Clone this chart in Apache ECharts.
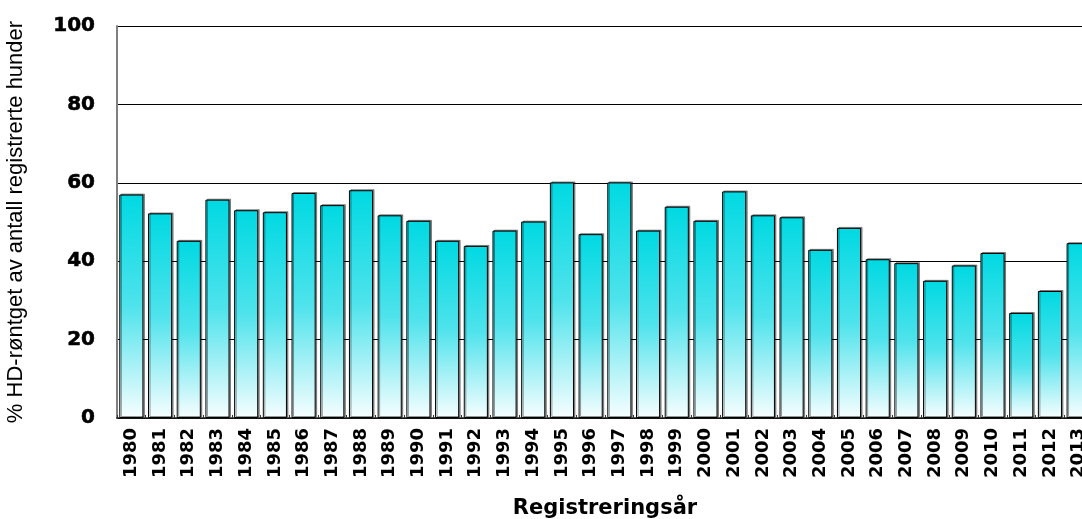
<!DOCTYPE html>
<html>
<head>
<meta charset="utf-8">
<script src="https://cdn.jsdelivr.net/npm/echarts@6/dist/echarts.min.js"></script>
<style>
  html, body { margin: 0; padding: 0; background: #ffffff; }
  #chart { width: 1082px; height: 519px; }
</style>
</head>
<body>
<div id="chart"></div>
<script>
// Registration years
const years = [
  '1980','1981','1982','1983','1984','1985','1986','1987','1988','1989',
  '1990','1991','1992','1993','1994','1995','1996','1997','1998','1999',
  '2000','2001','2002','2003','2004','2005','2006','2007','2008','2009',
  '2010','2011','2012','2013'
];

// Share of registered dogs that were HD x-rayed (%)
const xrayedPercent = [
  57.0, 52.2, 45.2, 55.7, 53.0, 52.5, 57.4, 54.3, 58.1, 51.7,
  50.3, 45.2, 43.9, 47.8, 50.1, 60.1, 46.9, 60.1, 47.8, 53.9,
  50.3, 57.8, 51.7, 51.2, 42.9, 48.5, 40.5, 39.5, 35.0, 38.9,
  42.1, 26.8, 32.4, 44.6
];

// Value axis ticks
const yTicks = [0, 20, 40, 60, 80, 100];

const chart = echarts.init(document.getElementById('chart'), null, { renderer: 'canvas' });

chart.setOption({
  animation: false,
  backgroundColor: '#ffffff',
  // the plot runs past the right edge of the canvas, so the last bar is clipped
  grid: { left: 117, top: 26, width: 976, height: 392, containLabel: false, outerBoundsMode: 'none' },
  xAxis: {
    type: 'category',
    data: years,
    boundaryGap: true,
    name: 'Registreringsår',
    nameLocation: 'middle',
    nameGap: 80,
    nameTextStyle: { fontFamily: 'DejaVu Sans', fontWeight: 'bold', fontSize: 21, color: '#000' },
    axisLine: { lineStyle: { color: '#1a1a1a', width: 1.5 } },
    axisTick: { show: true, inside: true, length: 3, lineStyle: { color: '#333' } },
    axisLabel: {
      interval: 0,
      rotate: 90,
      margin: 10,
      fontFamily: 'DejaVu Sans',
      fontWeight: 'bold',
      fontSize: 18,
      color: '#000'
    }
  },
  yAxis: {
    type: 'value',
    min: yTicks[0],
    max: yTicks[yTicks.length - 1],
    interval: 20,
    name: '% HD-røntget av antall registrerte hunder',
    nameLocation: 'middle',
    nameGap: 90,
    nameTextStyle: { fontFamily: 'Liberation Sans', fontSize: 22, color: '#000' },
    axisLine: { show: true, lineStyle: { color: '#808080', width: 2 } },
    axisTick: { show: false },
    axisLabel: {
      margin: 22,
      fontFamily: 'DejaVu Sans',
      fontWeight: 'bold',
      fontSize: 20,
      color: '#000',
      textBorderColor: '#000',
      textBorderWidth: 0.6
    },
    splitLine: { show: true, lineStyle: { color: '#000', width: 1 } }
  },
  series: [{
    type: 'bar',
    data: xrayedPercent,
    barCategoryGap: '16%',
    itemStyle: {
      color: new echarts.graphic.LinearGradient(0, 0, 0, 1, [
        { offset: 0, color: '#00d9e2' },
        { offset: 0.5, color: '#4fe3ec' },
        { offset: 1, color: '#f7feff' }
      ]),
      borderColor: '#000',
      borderWidth: 1,
      shadowColor: 'rgba(0,0,0,0.4)',
      shadowBlur: 0,
      shadowOffsetX: 1.5,
      shadowOffsetY: -1
    }
  }]
});
</script>
</body>
</html>
